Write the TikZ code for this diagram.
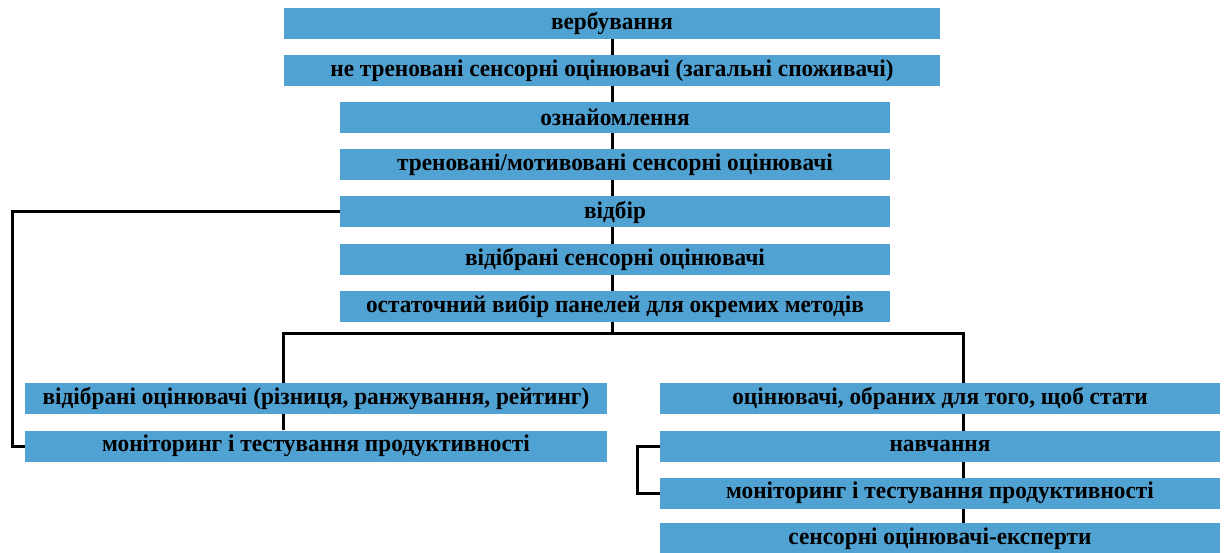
\documentclass[tikz,border=0pt]{standalone}
\usepackage{fontspec}
\setmainfont[FakeStretch=0.97]{Liberation Serif}
\usetikzlibrary{backgrounds}
\definecolor{boxblue}{RGB}{80,162,211}
\tikzset{
  box/.style={fill=boxblue, draw=none, inner sep=0pt, minimum height=31pt,
    font=\fontsize{24}{26}\selectfont\bfseries, text=black},
  conn/.style={line width=3pt, black}
}
\begin{document}
\begin{tikzpicture}[x=1pt,y=-1pt]
\useasboundingbox (0,0) rectangle (1226,553);
% central column
\node[box, minimum width=656pt] (n1) at (612,23.5) {вербування};
\node[box, minimum width=656pt] (n2) at (612,70.5) {не треновані сенсорні оцінювачі (загальні споживачі)};
\node[box, minimum width=550pt] (n3) at (615,117.5) {ознайомлення};
\node[box, minimum width=550pt] (n4) at (615,164.5) {треновані/мотивовані сенсорні оцінювачі};
\node[box, minimum width=550pt] (n5) at (615,212) {відбір};
\node[box, minimum width=550pt] (n6) at (615,259.5) {відібрані сенсорні оцінювачі};
\node[box, minimum width=550pt] (n7) at (615,306.5) {остаточний вибір панелей для окремих методів};
% left column
\node[box, minimum width=582pt] (a1) at (316,398.5) {відібрані оцінювачі (різниця, ранжування, рейтинг)};
\node[box, minimum width=582pt] (b1) at (316,446) {моніторинг і тестування продуктивності};
% right column
\node[box, minimum width=560pt] (c1) at (940,398.5) {оцінювачі, обраних для того, щоб стати};
\node[box, minimum width=560pt] (d1) at (940,446) {навчання};
\node[box, minimum width=560pt] (e1) at (940,493) {моніторинг і тестування продуктивності};
\node[box, minimum width=560pt] (f1) at (940,538.5) {сенсорні оцінювачі-експерти};
% helper coordinates
\coordinate (split) at (612,333);
\coordinate (lb) at (283,333);
\coordinate (rb) at (963,333);
\coordinate (ll) at (12,212);
\coordinate (rl) at (637,446);
\begin{scope}[on background layer]
\draw[conn] (n1.south -| split) -- (split);
\draw[conn] (split) -- (lb) -- (lb |- b1.north);
\draw[conn] (split) -- (rb) -- (rb |- f1.north);
\draw[conn] (n5.west) -- (ll) |- (b1.west);
\draw[conn] (d1.west) -- (rl) |- (e1.west);
\end{scope}
\end{tikzpicture}
\end{document}
